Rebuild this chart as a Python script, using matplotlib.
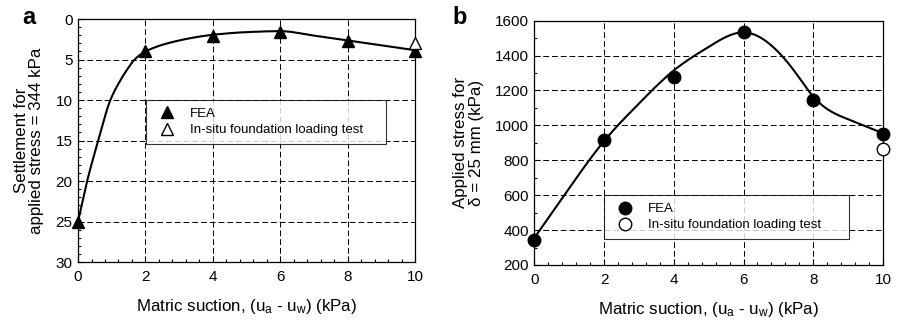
import numpy as np
import matplotlib
matplotlib.use("Agg")
import matplotlib.pyplot as plt
from matplotlib.ticker import MultipleLocator, AutoMinorLocator

plt.rcParams['font.family'] = ['Liberation Sans', 'DejaVu Sans']
plt.rcParams['mathtext.fontset'] = 'custom'
plt.rcParams['mathtext.rm'] = 'Liberation Sans'
plt.rcParams['mathtext.it'] = 'Liberation Sans:italic'

# ---------------- data ----------------
suction = [0, 2, 4, 6, 8, 10]
settle_fea = [25, 4.0, 2.05, 1.6, 2.7, 4.0]
settle_insitu_x = [10]
settle_insitu_y = [3.0]
# smooth fitted curve
curve_a_x = [0, 0.27, 0.6, 0.96, 1.28, 1.48, 1.68, 2, 3, 4, 5, 6, 7, 8, 9, 10]
curve_a_y = [25, 20, 15, 10, 7.4, 6.1, 5.0, 4.0, 2.65, 1.95, 1.62, 1.5, 2.05, 2.65, 3.25, 3.85]

stress_fea = [345, 915, 1275, 1535, 1145, 950]
stress_insitu_x = [10]
stress_insitu_y = [865]
curve_b_x = [0, 1, 2, 3, 4, 5, 6, 7, 7.5, 8, 9, 10]
curve_b_y = [355, 640, 910, 1125, 1315, 1450, 1533, 1420, 1300, 1165, 1035, 955]

xticks = [0, 2, 4, 6, 8, 10]
yticks_a = [0, 5, 10, 15, 20, 25, 30]
yticks_b = [200, 400, 600, 800, 1000, 1200, 1400, 1600]


def pchip(x, y, xs):
    x = np.asarray(x, float); y = np.asarray(y, float)
    h = np.diff(x); d = np.diff(y) / h
    n = len(x)
    m = np.zeros(n)
    for k in range(1, n - 1):
        if d[k - 1] * d[k] > 0:
            w1 = 2 * h[k] + h[k - 1]; w2 = h[k] + 2 * h[k - 1]
            m[k] = (w1 + w2) / (w1 / d[k - 1] + w2 / d[k])
    m[0] = d[0]; m[-1] = d[-1]
    idx = np.clip(np.searchsorted(x, xs) - 1, 0, n - 2)
    t = (xs - x[idx]) / h[idx]
    h00 = 2 * t**3 - 3 * t**2 + 1; h10 = t**3 - 2 * t**2 + t
    h01 = -2 * t**3 + 3 * t**2; h11 = t**3 - t**2
    return h00 * y[idx] + h10 * h[idx] * m[idx] + h01 * y[idx + 1] + h11 * h[idx] * m[idx + 1]


def natural_spline(x, y, xs):
    x = np.asarray(x, float); y = np.asarray(y, float)
    n = len(x); h = np.diff(x)
    A = np.zeros((n, n)); r = np.zeros(n)
    A[0, 0] = 1; A[-1, -1] = 1
    for i in range(1, n - 1):
        A[i, i - 1] = h[i - 1]; A[i, i] = 2 * (h[i - 1] + h[i]); A[i, i + 1] = h[i]
        r[i] = 6 * ((y[i + 1] - y[i]) / h[i] - (y[i] - y[i - 1]) / h[i - 1])
    M = np.linalg.solve(A, r)
    idx = np.clip(np.searchsorted(x, xs) - 1, 0, n - 2)
    x0 = x[idx]; x1 = x[idx + 1]; hh = h[idx]
    return (M[idx] * (x1 - xs) ** 3 / (6 * hh) + M[idx + 1] * (xs - x0) ** 3 / (6 * hh)
            + (y[idx] / hh - M[idx] * hh / 6) * (x1 - xs) + (y[idx + 1] / hh - M[idx + 1] * hh / 6) * (xs - x0))


fig = plt.figure(figsize=(8.98, 3.21), dpi=100)
axa = fig.add_axes([0.0869, 0.1838, 0.3753, 0.757])
axb = fig.add_axes([0.595, 0.1745, 0.3883, 0.761])

fs_tick = 11
fs_lab = 12.2
fs_leg = 9.5

for ax in (axa, axb):
    ax.set_xlim(0, 10)
    ax.set_xticks(xticks)
    ax.xaxis.set_minor_locator(AutoMinorLocator(5))
    ax.tick_params(which='both', direction='in', top=False, right=False, labelsize=fs_tick)
    ax.tick_params(which='major', length=4, width=0.8, pad=4)
    ax.tick_params(axis='x', which='major', pad=6)
    ax.tick_params(which='minor', length=2.5, width=0.8)
    ax.grid(True, which='major', color='black', linestyle=(0, (6, 3)), linewidth=0.7)
    ax.set_axisbelow(True)
    for s in ax.spines.values():
        s.set_linewidth(0.9)
    ax.set_xlabel(r"Matric suction, (u$_\mathregular{a}$ - u$_\mathregular{w}$) (kPa)", fontsize=fs_lab, labelpad=9)

# panel a
xs = np.linspace(0, 10, 600)
axa.set_ylim(30, 0)
axa.set_yticks(yticks_a)
axa.yaxis.set_minor_locator(MultipleLocator(1))
axa.plot(xs, pchip(curve_a_x, curve_a_y, xs), color='black', lw=1.5, zorder=3)
axa.plot(suction, settle_fea, linestyle='none', marker='^', ms=8.5, color='black', label='FEA', zorder=4, clip_on=False)
axa.plot(settle_insitu_x, settle_insitu_y, linestyle='none', marker='^', ms=8.5, mfc='white', mec='black', mew=1.0,
         label='In-situ foundation loading test', zorder=5, clip_on=False)
axa.set_ylabel("Settlement for\napplied stress = 344 kPa", fontsize=fs_lab, labelpad=8, linespacing=1.05)
leg = axa.legend(loc='upper left', bbox_to_anchor=(0.202, 0.477, 0.712, 0.19), mode='expand',
                 fontsize=fs_leg, frameon=True, fancybox=False, borderpad=0.6, labelspacing=0.3,
                 handlelength=2.0, handletextpad=0.75, borderaxespad=0)
leg.get_frame().set_edgecolor('black'); leg.get_frame().set_linewidth(0.8)
leg.set_zorder(6)

# panel b
axb.set_ylim(200, 1600)
axb.set_yticks(yticks_b)
axb.yaxis.set_minor_locator(MultipleLocator(100))
axb.plot(xs, natural_spline(curve_b_x, curve_b_y, xs), color='black', lw=1.5, zorder=3)
axb.plot(suction, stress_fea, linestyle='none', marker='o', ms=9, color='black', label='FEA', zorder=4, clip_on=False)
axb.plot(stress_insitu_x, stress_insitu_y, linestyle='none', marker='o', ms=9, mfc='white', mec='black', mew=1.0,
         label='In-situ foundation loading test', zorder=5, clip_on=False)
axb.set_ylabel("Applied stress for\nδ = 25 mm (kPa)", fontsize=fs_lab, labelpad=8, linespacing=1.05)
leg = axb.legend(loc='upper left', bbox_to_anchor=(0.2, 0.098, 0.7025, 0.1885), mode='expand',
                 fontsize=fs_leg, frameon=True, fancybox=False, borderpad=0.6, labelspacing=0.3,
                 handlelength=2.0, handletextpad=0.75, borderaxespad=0)
leg.get_frame().set_edgecolor('black'); leg.get_frame().set_linewidth(0.8)
leg.set_zorder(6)

fig.text(29 / 898, 1 - 18 / 321, 'a', fontsize=17, fontweight='bold', ha='center', va='center')
fig.text(460 / 898, 1 - 18 / 321, 'b', fontsize=17, fontweight='bold', ha='center', va='center')

fig.savefig('out.png', dpi=100)
